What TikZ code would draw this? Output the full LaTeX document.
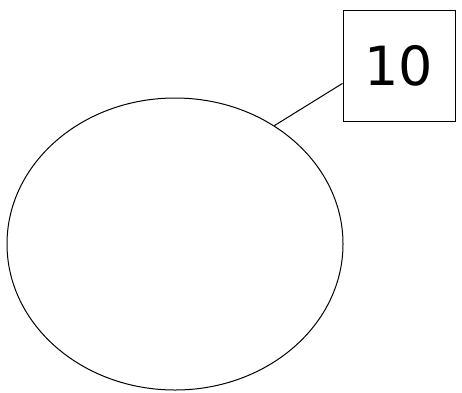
\documentclass[tikz,border=0pt]{standalone}
\usepackage{fontspec}
\setmainfont{DejaVu Sans}
\usetikzlibrary{shapes.geometric,calc}
\begin{document}
\begin{tikzpicture}[x=1pt,y=-1pt,
  shapeline/.style={draw=black,line width=1pt},
  numbox/.style={shapeline,rectangle,minimum width=112pt,minimum height=111pt,inner sep=0pt,font=\fontsize{54}{60}\selectfont}]
\useasboundingbox (0,0) rectangle (462,392);
\node[shapeline,ellipse,minimum width=336pt,minimum height=292pt,inner sep=0pt] (e) at (175,244) {};
\node[numbox] (b) at (399,65.5) {10};
\coordinate (bp) at ($(b.north west)!0.66!(b.south west)$);
\draw[shapeline] (e.50) -- (bp);
\end{tikzpicture}
\end{document}
